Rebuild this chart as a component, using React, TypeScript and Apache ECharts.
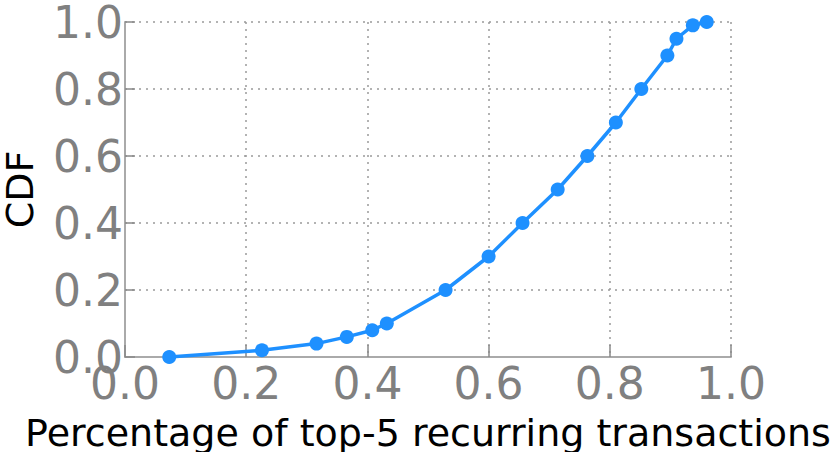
import React, { useEffect, useRef } from "react";
import * as echarts from "echarts";

const xValues = [0.073, 0.226, 0.316, 0.366, 0.408, 0.432, 0.529, 0.6, 0.656, 0.714, 0.763, 0.81, 0.852, 0.895, 0.91, 0.937, 0.96];
const cdfValues = [0.0, 0.02, 0.04, 0.06, 0.08, 0.1, 0.2, 0.3, 0.4, 0.5, 0.6, 0.7, 0.8, 0.9, 0.95, 0.99, 1.0];
const xTitle = "Percentage of top-5 recurring transactions";
const yTitle = "CDF";

export default function App() {
  const ref = useRef<HTMLDivElement>(null);
  useEffect(() => {
    if (!ref.current) return;
    const chart = echarts.init(ref.current, undefined, { renderer: "svg" });
    const font = "DejaVu Sans";
    const gridLine = { show: true, lineStyle: { color: "#9a9a9a", type: [2, 5] as any, width: 1.5 } };
    chart.setOption({
      animation: false,
      grid: { left: 125, right: 100, top: 22, bottom: 95, containLabel: false, outerBoundsMode: "none" } as any,
      xAxis: {
        type: "value",
        min: 0,
        max: 1,
        interval: 0.2,
        name: xTitle,
        nameLocation: "middle",
        nameGap: 57,
        nameTextStyle: { fontFamily: font, fontSize: 38, color: "#000" },
        axisLine: { show: true, lineStyle: { color: "#aaaaaa", width: 2 } },
        axisTick: { show: true, inside: true, length: 12, lineStyle: { color: "#888", width: 1.5 } },
        axisLabel: {
          fontFamily: font,
          fontSize: 44,
          color: "#808080",
          margin: 4,
          hideOverlap: false,
          formatter: (v: number) => v.toFixed(1),
        },
        splitLine: gridLine,
      },
      yAxis: {
        type: "value",
        min: 0,
        max: 1,
        interval: 0.2,
        name: yTitle,
        nameLocation: "middle",
        nameGap: 86,
        nameTextStyle: { fontFamily: font, fontSize: 38, color: "#000" },
        axisLine: { show: true, lineStyle: { color: "#aaaaaa", width: 2 } },
        axisTick: { show: true, inside: true, length: 10, lineStyle: { color: "#888", width: 1.5 } },
        axisLabel: {
          fontFamily: font,
          fontSize: 44,
          color: "#808080",
          margin: 2,
          hideOverlap: false,
          formatter: (v: number) => v.toFixed(1),
        },
        splitLine: gridLine,
      },
      series: [
        {
          type: "line",
          data: xValues.map((x, i) => [x, cdfValues[i]]),
          symbol: "circle",
          symbolSize: 14,
          lineStyle: { color: "#1e90ff", width: 3.5 },
          itemStyle: { color: "#1e90ff" },
          clip: false,
        },
      ],
    });
    return () => chart.dispose();
  }, []);
  return (
    <div
      ref={ref}
      style={{ position: "fixed", left: 0, top: 0, width: 831, height: 452, background: "#fff" }}
    />
  );
}
